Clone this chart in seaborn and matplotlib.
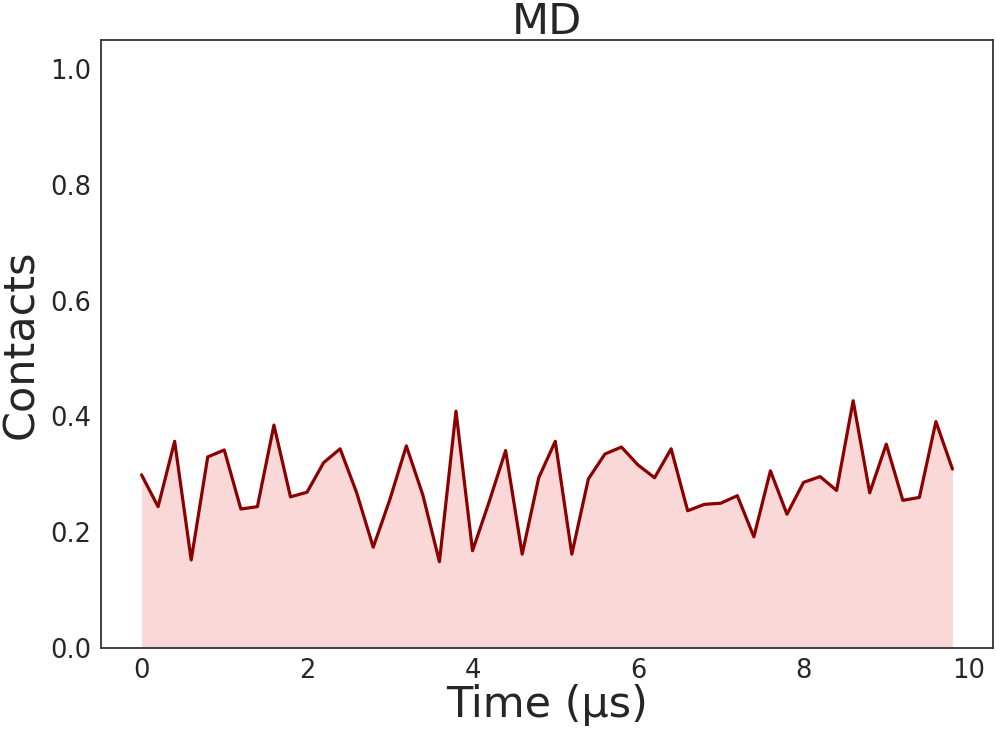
import matplotlib
matplotlib.use('Agg')
import matplotlib.pyplot as plt
import seaborn as sns
import numpy as np
import pandas as pd

time_us = np.round(np.arange(0, 9.81, 0.2), 1)
contacts = [
    0.299, 0.244, 0.357, 0.152, 0.330, 0.342, 0.240, 0.244, 0.385, 0.261,
    0.269, 0.320, 0.344, 0.268, 0.174, 0.256, 0.349, 0.264, 0.149, 0.409,
    0.168, 0.252, 0.341, 0.162, 0.294, 0.357, 0.162, 0.292, 0.335, 0.347,
    0.316, 0.294, 0.344, 0.237, 0.248, 0.250, 0.263, 0.192, 0.306, 0.231,
    0.286, 0.296, 0.272, 0.427, 0.268, 0.352, 0.255, 0.260, 0.391, 0.309,
]

df = pd.DataFrame({'time': time_us, 'contacts': contacts})

sns.set_style('white')
plt.rcParams['font.family'] = ['DejaVu Sans']

fig = plt.figure(figsize=(9.96, 7.33), dpi=100)
ax = fig.add_axes([0.1014, 0.116, 0.8956, 0.8294])

ax.fill_between(df['time'], df['contacts'], color='lightcoral', alpha=0.3, linewidth=0)
sns.lineplot(data=df, x='time', y='contacts', color='darkred', linewidth=2.3, ax=ax)

ax.set_ylim(0, 1.05)
ax.set_yticks([0.0, 0.2, 0.4, 0.6, 0.8, 1.0])
ax.set_xticks([0, 2, 4, 6, 8, 10])
ax.tick_params(labelsize=18.5, colors='.15')
ax.set_title('MD', fontsize=31, color='.15', pad=4)
ax.set_xlabel('Time (μs)', fontsize=31, color='.15', labelpad=0)
ax.set_ylabel('Contacts', fontsize=31, color='.15', labelpad=6)
for s in ax.spines.values():
    s.set_color('.2')
    s.set_linewidth(1.3)

fig.savefig('out.png', dpi=100)
